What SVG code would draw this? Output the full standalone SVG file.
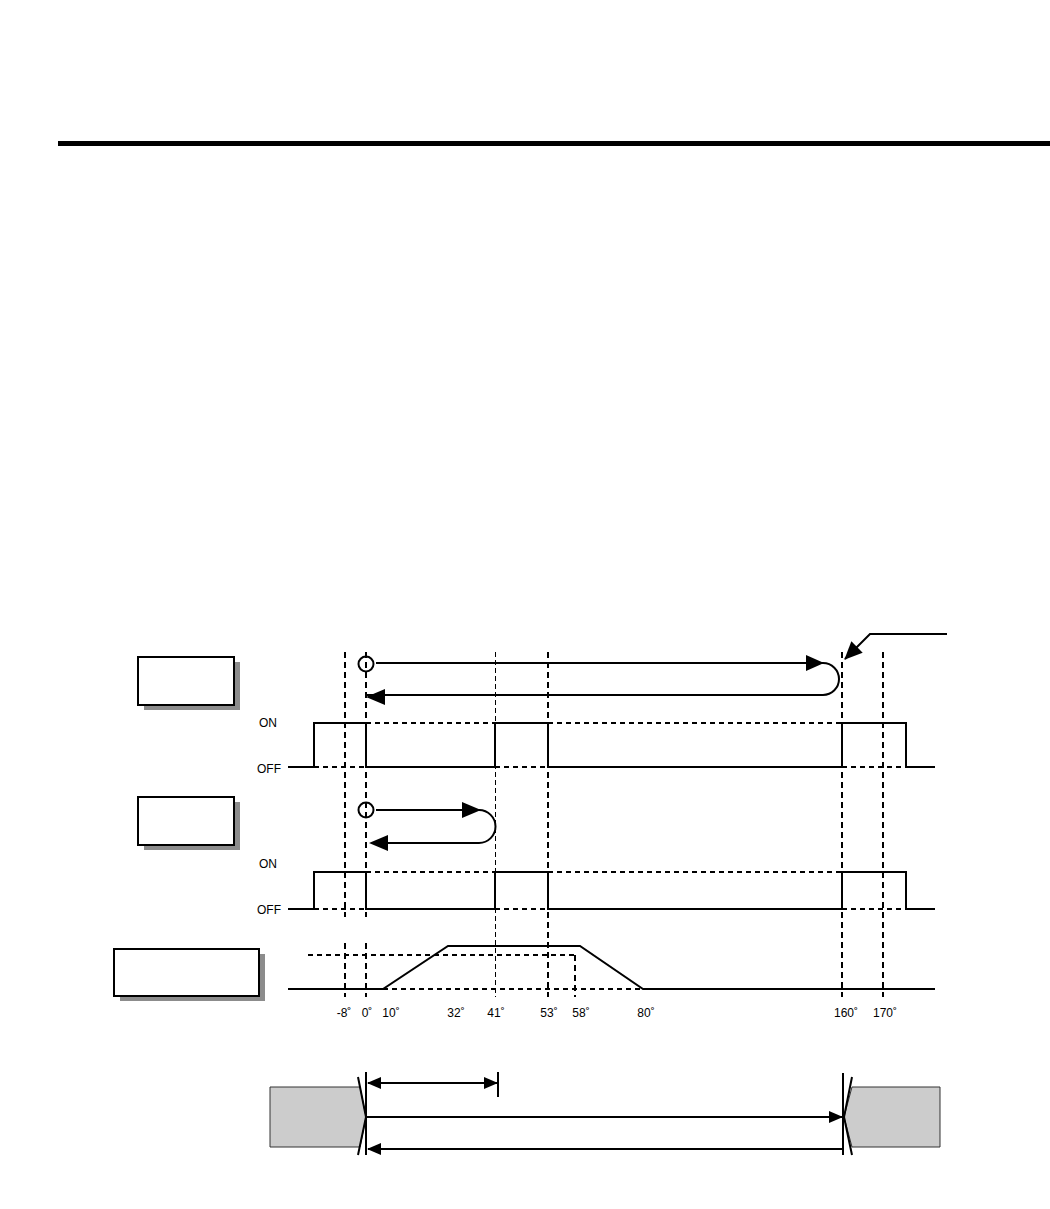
<svg xmlns="http://www.w3.org/2000/svg" width="1050" height="1209" viewBox="0 0 1050 1209">
<style>
.sig{fill:none;stroke:#000;stroke-width:2}
.dh{fill:none;stroke:#000;stroke-width:2;stroke-dasharray:5,4}
.dv{fill:none;stroke:#000;stroke-width:2;stroke-dasharray:6,4}
.dvt{fill:none;stroke:#000;stroke-width:1;stroke-dasharray:5,3}
.ln{fill:none;stroke:#000;stroke-width:2}
.box{fill:#fff;stroke:#000;stroke-width:2}
.sh{fill:#8c8c8c}
.lbl{font-family:"Liberation Sans",Arial,sans-serif;font-size:12px;fill:#000}
.deg{font-family:"Liberation Sans",Arial,sans-serif;font-size:12px;fill:#000;text-anchor:middle}
.blk{fill:#cccccc;stroke:#333;stroke-width:1}
</style>
<defs>
<marker id="ah" markerWidth="18" markerHeight="16" refX="17" refY="8" orient="auto" markerUnits="userSpaceOnUse">
<path d="M0,0 L18,8 L0,16 Z" fill="#000"/>
</marker>
<marker id="ahs" markerWidth="14" markerHeight="12" refX="13" refY="6" orient="auto-start-reverse" markerUnits="userSpaceOnUse">
<path d="M0,0 L14,6 L0,12 Z" fill="#000"/>
</marker>
</defs>

<rect x="58" y="141" width="992" height="5" fill="#000"/>

<g id="grid">
<path class="dv" d="M345,652 V917 M345,943 V997"/>
<path class="dv" d="M366,652 V917 M366,943 V997"/>
<path class="dvt" d="M495.5,652 V997"/>
<path class="dv" d="M548,652 V997"/>
<path class="dv" d="M575,955 V997"/>
<path class="dv" d="M842,652 V997"/>
<path class="dv" d="M883,652 V997"/>
</g>

<g id="box1">
<rect class="sh" x="144" y="662" width="96" height="48"/>
<rect class="box" x="138" y="657" width="96" height="48"/>
</g>
<g id="box2">
<rect class="sh" x="144" y="802" width="96" height="48"/>
<rect class="box" x="138" y="797" width="96" height="48"/>
</g>
<g id="box3">
<rect class="sh" x="120" y="954" width="145" height="47"/>
<rect class="box" x="114" y="949" width="145" height="47"/>
</g>

<g id="signal1">
<text class="lbl" x="259" y="727">ON</text>
<text class="lbl" x="257" y="773">OFF</text>
<path class="sig" d="M288,767 H314 V723 H366 V767 H495 V723 H548 V767 H842 V723 H906 V767 H935"/>
<path class="dh" d="M366,723 H495 M548,723 H842 M314,767 H366 M495,767 H548 M842,767 H906"/>
</g>

<g id="signal2">
<text class="lbl" x="259" y="868">ON</text>
<text class="lbl" x="257" y="914">OFF</text>
<path class="sig" d="M288,909 H314 V872 H366 V909 H495 V872 H548 V909 H842 V872 H906 V909 H935"/>
<path class="dh" d="M366,872 H495 M548,872 H842 M314,909 H366 M495,909 H548 M842,909 H906"/>
</g>

<g id="signal3">
<path class="sig" d="M288,989 H383 L448,946 H580 L643,989 H935"/>
<path class="dh" d="M383,989 H643 M308,955 H575"/>
<text class="deg" x="344" y="1017">-8˚</text>
<text class="deg" x="367" y="1017">0˚</text>
<text class="deg" x="391" y="1017">10˚</text>
<text class="deg" x="456" y="1017">32˚</text>
<text class="deg" x="496" y="1017">41˚</text>
<text class="deg" x="549" y="1017">53˚</text>
<text class="deg" x="581" y="1017">58˚</text>
<text class="deg" x="646" y="1017">80˚</text>
<text class="deg" x="846" y="1017">160˚</text>
<text class="deg" x="885" y="1017">170˚</text>
</g>

<g id="blockL">
<polygon class="blk" points="270,1087 360,1087 366,1117 360,1147 270,1147"/>
<path class="ln" d="M358,1077 L366,1117 L358,1155 M366,1072 V1155" stroke-width="1.5"/>
</g>
<g id="blockR">
<polygon class="blk" points="852,1087 940,1087 940,1147 852,1147 844,1117"/>
<path class="ln" d="M852,1077 L844,1117 L852,1155 M843,1073 V1155" stroke-width="1.5"/>
</g>

<g id="connectors">
<circle cx="366" cy="664" r="7.5" fill="none" stroke="#000" stroke-width="2"/>
<path class="ln" d="M376,663 H823 A16,16 0 0 1 823,695 H367"/>
<path d="M806,655 L824,663 L806,671 Z" fill="#000"/>
<path d="M385,689 L366,697 L385,705 Z" fill="#000"/>

<circle cx="366" cy="810" r="7.5" fill="none" stroke="#000" stroke-width="2"/>
<path class="ln" d="M376,810 H479 A16.5,16.5 0 0 1 479,843 H372"/>
<path d="M462,802 L481,810 L462,818 Z" fill="#000"/>
<path d="M388,835 L369,843 L388,851 Z" fill="#000"/>

<path class="ln" d="M947,634 H870 L845,659" marker-end="url(#ah)"/>

<path class="ln" d="M368,1083 H497" marker-start="url(#ahs)" marker-end="url(#ahs)"/>
<path class="ln" d="M498,1072 V1097"/>
<path class="ln" d="M366,1117 H842" marker-end="url(#ahs)"/>
<path class="ln" d="M842,1149 H368" marker-end="url(#ahs)"/>
</g>
</svg>
